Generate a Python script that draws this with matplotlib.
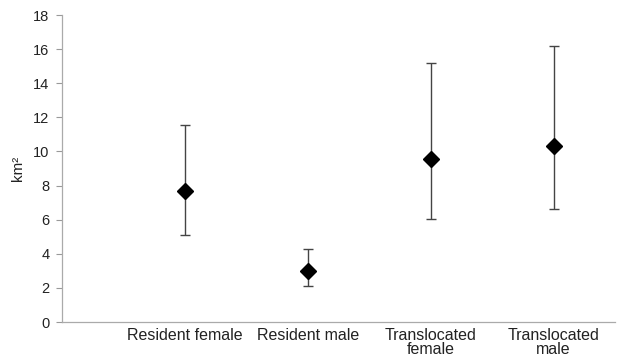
import matplotlib
matplotlib.use("Agg")
import matplotlib.pyplot as plt
import numpy as np

plt.rcParams['font.family'] = ['Liberation Sans', 'DejaVu Sans']

categories = ["Resident female", "Resident male", "Translocated\nfemale", "Translocated\nmale"]
means = [7.68, 2.99, 9.55, 10.33]
upper = [11.55, 4.26, 15.2, 16.2]
lower = [5.1, 2.11, 6.04, 6.62]

x = np.arange(1, len(categories) + 1)
yerr = [np.array(means) - np.array(lower), np.array(upper) - np.array(means)]

fig = plt.figure(figsize=(6.17, 3.63), dpi=100)
ax = fig.add_axes([62/617, 41/363, 553/617, 307/363])

ax.errorbar(x, means, yerr=yerr, fmt='D', color='black', markersize=8,
            ecolor='#444444', elinewidth=1.0, capsize=3.5, capthick=1.0)

ax.set_xlim(0, 4.5)
ax.set_ylim(0, 18)
ax.set_yticks(range(0, 19, 2))
ax.set_xticks(x)
ax.set_xticklabels(categories, fontsize=11.5, color='#222222', linespacing=0.95)
ax.tick_params(axis='x', length=0, pad=4)
ax.tick_params(axis='y', length=4, width=0.8, color='#999999', labelsize=10.5,
               labelcolor='#222222', pad=5)
ax.set_ylabel("km²", fontsize=11, color='#222222', labelpad=6)

for s in ['top', 'right']:
    ax.spines[s].set_visible(False)
for s in ['left', 'bottom']:
    ax.spines[s].set_color('#aaaaaa')
    ax.spines[s].set_linewidth(0.9)

fig.savefig("out.png", dpi=100)
